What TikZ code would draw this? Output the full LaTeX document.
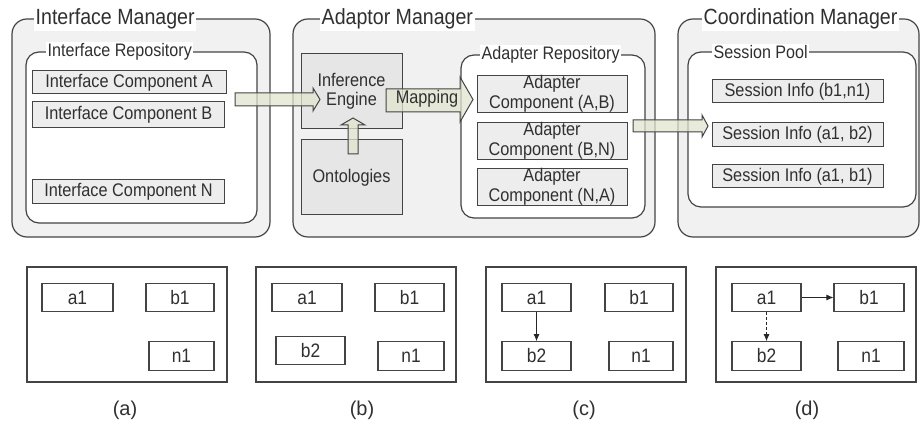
\documentclass[tikz,border=0pt]{standalone}
\usepackage{fontspec}
\setmainfont{Liberation Sans}
\newfontfamily\narrowsans{Liberation Sans}[FakeStretch=0.89]
\usetikzlibrary{arrows.meta}
\definecolor{edge}{HTML}{444444}
\definecolor{txt}{HTML}{303030}
\definecolor{mgrfill}{HTML}{F1F1F1}
\definecolor{compfill}{HTML}{EDEDED}
\definecolor{engfill}{HTML}{E6E6E6}
\definecolor{arrfill}{HTML}{E1E4CF}
\newcommand\fTitle{\narrowsans\fontsize{22}{24}\selectfont}
\newcommand\fSub{\narrowsans\fontsize{18.1}{20}\selectfont}
\newcommand\fBox{\narrowsans\fontsize{18.3}{19.5}\selectfont}
\newcommand\fSmall{\narrowsans\fontsize{19.5}{22}\selectfont}
\newcommand\fCap{\fontsize{20}{22}\selectfont}
\tikzset{
  mgr/.style={draw=edge, line width=1.2pt, fill=mgrfill, rounded corners=15pt, minimum width=#1},
  repo/.style={draw=edge, line width=1.2pt, fill=white, rounded corners=13pt},
  ttl/.style={anchor=west, fill=white, inner sep=1.5pt, text=txt, font=\fTitle},
  subttl/.style={anchor=west, fill=white, inner sep=1.5pt, text=txt, font=\fSub},
  comp/.style={draw=edge, line width=1pt, fill=compfill, text=txt, font=\fBox, inner sep=0pt, align=center},
  eng/.style={draw=edge, line width=1pt, fill=engfill, text=txt, font=\fBox, inner sep=0pt, align=center},
  blockarrow/.style={draw=edge, line width=1pt, fill=arrfill, fill opacity=0.75, draw opacity=1},
  panel/.style={draw=edge, line width=1.3pt, fill=white, inner sep=0pt},
  item/.style={draw=edge, line width=1.1pt, fill=white, text=txt, font=\fSmall, minimum width=69pt, minimum height=28.5pt, inner sep=0pt},
  captext/.style={text=txt, font=\fCap},
  link/.style={draw=black!85, line width=0.9pt, -{Latex[length=7pt,width=6pt]}}
}
\begin{document}
\begin{tikzpicture}[x=1pt,y=-1pt]
\useasboundingbox (0,0) rectangle (921,427);
% managers
\node[mgr=258pt, minimum height=218pt] (im) at (141,128) {};
\node[mgr=362pt, minimum height=218pt] (am) at (474,128) {};
\node[mgr=241pt, minimum height=218pt] (cm) at (798.5,128) {};
\node[ttl] (imt) at (34,19) {Interface Manager};
\node[ttl] (amt) at (320,19) {Adaptor Manager};
\node[ttl] (cmt) at (702,19) {Coordination Manager};
% repositories
\node[repo, minimum width=231pt, minimum height=171pt] (ir) at (141.5,137.5) {};
\node[repo, minimum width=184pt, minimum height=163pt] (ar) at (553,136.5) {};
\node[repo, minimum width=228pt, minimum height=155pt] (sp) at (802,129.5) {};
\node[subttl] (irt) at (46,52) {Interface Repository};
\node[subttl] (art) at (480,55) {Adapter Repository};
\node[subttl] (spt) at (712,52) {Session Pool};
% interface components
\node[comp, minimum width=194pt, minimum height=23pt] (ica) at (129,82.5) {Interface Component A};
\node[comp, minimum width=192pt, minimum height=26pt] (icb) at (128.5,115) {Interface Component B};
\node[comp, minimum width=192pt, minimum height=24pt] (icn) at (128.5,192) {Interface Component N};
% engine / ontologies
\node[eng, minimum width=101pt, minimum height=75pt] (ie) at (351.5,91.5) {Inference\\Engine};
\node[eng, minimum width=101pt, minimum height=75pt] (ont) at (351.5,177.5) {Ontologies};
% adapter components
\node[comp, minimum width=150pt, minimum height=36pt] (acab) at (552,94) {Adapter\\Component (A,B)};
\node[comp, minimum width=150pt, minimum height=36pt] (acbn) at (552,141) {Adapter\\Component (B,N)};
\node[comp, minimum width=150pt, minimum height=36pt] (acna) at (552,187) {Adapter\\Component (N,A)};
% session infos
\node[comp, minimum width=171pt, minimum height=23pt] (s1) at (797.5,91.5) {Session Info (b1,n1)};
\node[comp, minimum width=171pt, minimum height=24pt] (s2) at (797.5,135) {Session Info (a1, b2)};
\node[comp, minimum width=171pt, minimum height=23pt] (s3) at (797.5,176.5) {Session Info (a1, b1)};
% block arrows
\draw[blockarrow] (235,93) -- (313,93) -- (313,88) -- (320,99.5) -- (313,111) -- (313,106) -- (235,106) -- cycle;
\draw[blockarrow] (633,120) -- (702,120) -- (702,115) -- (708,126) -- (702,137) -- (702,132) -- (633,132) -- cycle;
\draw[blockarrow] (348,154) -- (348,125) -- (341,125) -- (353,118) -- (365,125) -- (358,125) -- (358,154) -- cycle;
\draw[blockarrow] (386,89) -- (460,89) -- (460,77) -- (473,99.5) -- (460,122) -- (460,112) -- (386,112) -- cycle;
\node[text=txt, font=\fBox, inner sep=0pt] (map) at (427,99) {Mapping};
% bottom panels
\node[panel, minimum width=200pt, minimum height=115pt] (pa) at (127,324.5) {};
\node[panel, minimum width=200pt, minimum height=115pt] (pb) at (356,324.5) {};
\node[panel, minimum width=200pt, minimum height=115pt] (pc) at (586,324.5) {};
\node[panel, minimum width=200pt, minimum height=115pt] (pd) at (816,324.5) {};
% (a)
\node[item, minimum width=71pt] (aa1) at (77.5,297.5) {a1};
\node[item, minimum width=68pt] (ab1) at (180,297.5) {b1};
\node[item, minimum width=65pt] (an1) at (181.5,356) {n1};
% (b)
\node[item, minimum width=70pt] (ba1) at (307,297.5) {a1};
\node[item] (bb1) at (409.5,297.5) {b1};
\node[item] (bb2) at (310.5,350.5) {b2};
\node[item, minimum width=66pt] (bn1) at (411,356) {n1};
% (c)
\node[item] (ca1) at (536.5,297.5) {a1};
\node[item, minimum width=68pt] (cb1) at (639,297.5) {b1};
\node[item] (cb2) at (536.5,356) {b2};
\node[item, minimum width=64pt] (cn1) at (641,356) {n1};
% (d)
\node[item] (da1) at (766.5,297.5) {a1};
\node[item, minimum width=70pt] (db1) at (869,297.5) {b1};
\node[item] (db2) at (766.5,356) {b2};
\node[item, minimum width=66pt] (dn1) at (871,356) {n1};
% links
\draw[link] (ca1) -- (cb2);
\draw[link] (da1) -- (db1);
\draw[link, dashed, dash pattern=on 3pt off 2pt] (da1) -- (db2);
% captions
\node[captext] (la) at (125,410) {(a)};
\node[captext] (lb) at (362,410) {(b)};
\node[captext] (lc) at (584,410) {(c)};
\node[captext] (ld) at (807,410) {(d)};
\end{tikzpicture}
\end{document}
